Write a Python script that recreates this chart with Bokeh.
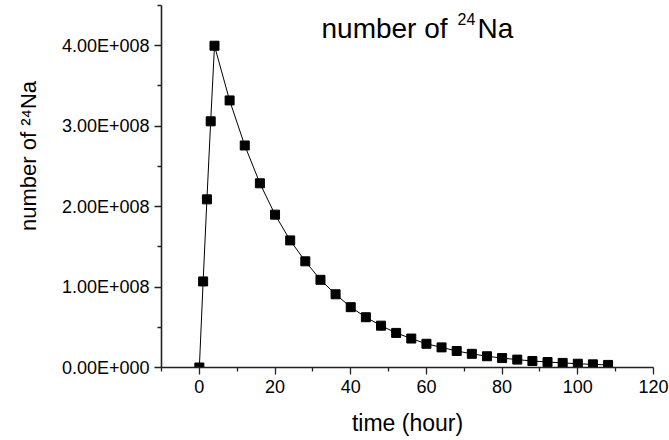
import math
from bokeh.plotting import figure
from bokeh.models import Range1d, FixedTicker, Label
from bokeh.embed import file_html
from bokeh.resources import INLINE

# ---- data ----
time_hours = [0, 1, 2, 3, 4, 8, 12, 16, 20, 24, 28, 32, 36, 40, 44, 48, 52, 56,
              60, 64, 68, 72, 76, 80, 84, 88, 92, 96, 100, 104, 108]
na24_count = [0.0, 1.07e8, 2.09e8, 3.06e8, 4.00e8, 3.32e8, 2.76e8, 2.29e8, 1.90e8,
              1.58e8, 1.32e8, 1.09e8, 0.91e8, 0.75e8, 0.625e8, 0.52e8, 0.43e8,
              0.36e8, 0.295e8, 0.25e8, 0.205e8, 0.17e8, 0.14e8, 0.117e8, 0.098e8,
              0.081e8, 0.068e8, 0.057e8, 0.047e8, 0.039e8, 0.032e8]

x_major = [0, 20, 40, 60, 80, 100, 120]
x_minor = [-10, 10, 30, 50, 70, 90, 110]
y_major = [0, 1e8, 2e8, 3e8, 4e8]
y_minor = [0.5e8, 1.5e8, 2.5e8, 3.5e8, 4.5e8]
y_tick_labels = ["0.00E+000", "1.00E+008", "2.00E+008", "3.00E+008", "4.00E+008"]

x_title = "time (hour)"
y_title = "number of \u00b2\u2074Na"

FONT = "Liberation Sans"

p = figure(width=669, height=440, output_backend="svg", toolbar_location=None,
           x_range=Range1d(-10, 120), y_range=Range1d(0, 4.5e8),
           min_border_left=161, min_border_right=16, min_border_top=5,
           min_border_bottom=73)
p.outline_line_color = None
p.xgrid.visible = False
p.ygrid.visible = False
p.background_fill_color = "white"
p.border_fill_color = "white"

p.xaxis.ticker = FixedTicker(ticks=x_major, minor_ticks=x_minor)
p.yaxis.ticker = FixedTicker(ticks=y_major, minor_ticks=y_minor)
p.yaxis.major_label_overrides = {v: s for v, s in zip(y_major, y_tick_labels)}

for ax in (p.xaxis[0], p.yaxis[0]):
    ax.axis_line_color = "#222222"
    ax.axis_line_width = 1.6
    ax.major_tick_line_color = "#222222"
    ax.minor_tick_line_color = "#222222"
    ax.major_tick_line_width = 1.3
    ax.minor_tick_line_width = 1.3
    ax.major_tick_in = 0
    ax.minor_tick_in = 0
    ax.major_tick_out = 7
    ax.minor_tick_out = 4
    ax.major_label_text_font = FONT
    ax.major_label_text_font_size = "18px"
    ax.major_label_text_color = "black"
    ax.major_label_standoff = 5
    ax.axis_label_text_font = FONT
    ax.axis_label_text_font_style = "normal"
    ax.axis_label_text_color = "black"

p.xaxis.axis_label = x_title
p.xaxis.axis_label_text_font_size = "23px"
p.xaxis.axis_label_standoff = 14

# leading no-break spaces move the centred label up along the axis, as in the reference
p.yaxis.axis_label = "\u00a0" * 10 + y_title
p.yaxis.axis_label_text_font_size = "22px"
p.yaxis.axis_label_standoff = 18

p.line(time_hours, na24_count, line_color="black", line_width=1)
p.scatter(time_hours, na24_count, marker="square", size=9,
          fill_color="black", line_color="black")

# ---- title inside the frame (screen units, origin at frame bottom-left) ----
FL, FB = 161, 367  # frame left / bottom on canvas


def lab(text, cx, cy, size):
    p.add_layout(Label(x=cx - FL, y=FB - cy, x_units="screen", y_units="screen",
                       text=text, text_font=FONT, text_font_size=size,
                       text_color="black", text_align="left",
                       text_baseline="alphabetic"))


lab("number of", 321, 28, "28px")
lab("24", 457, 18, "16px")
lab("Na", 477, 28, "28px")

open("out.html", "w").write(file_html(p, INLINE))
